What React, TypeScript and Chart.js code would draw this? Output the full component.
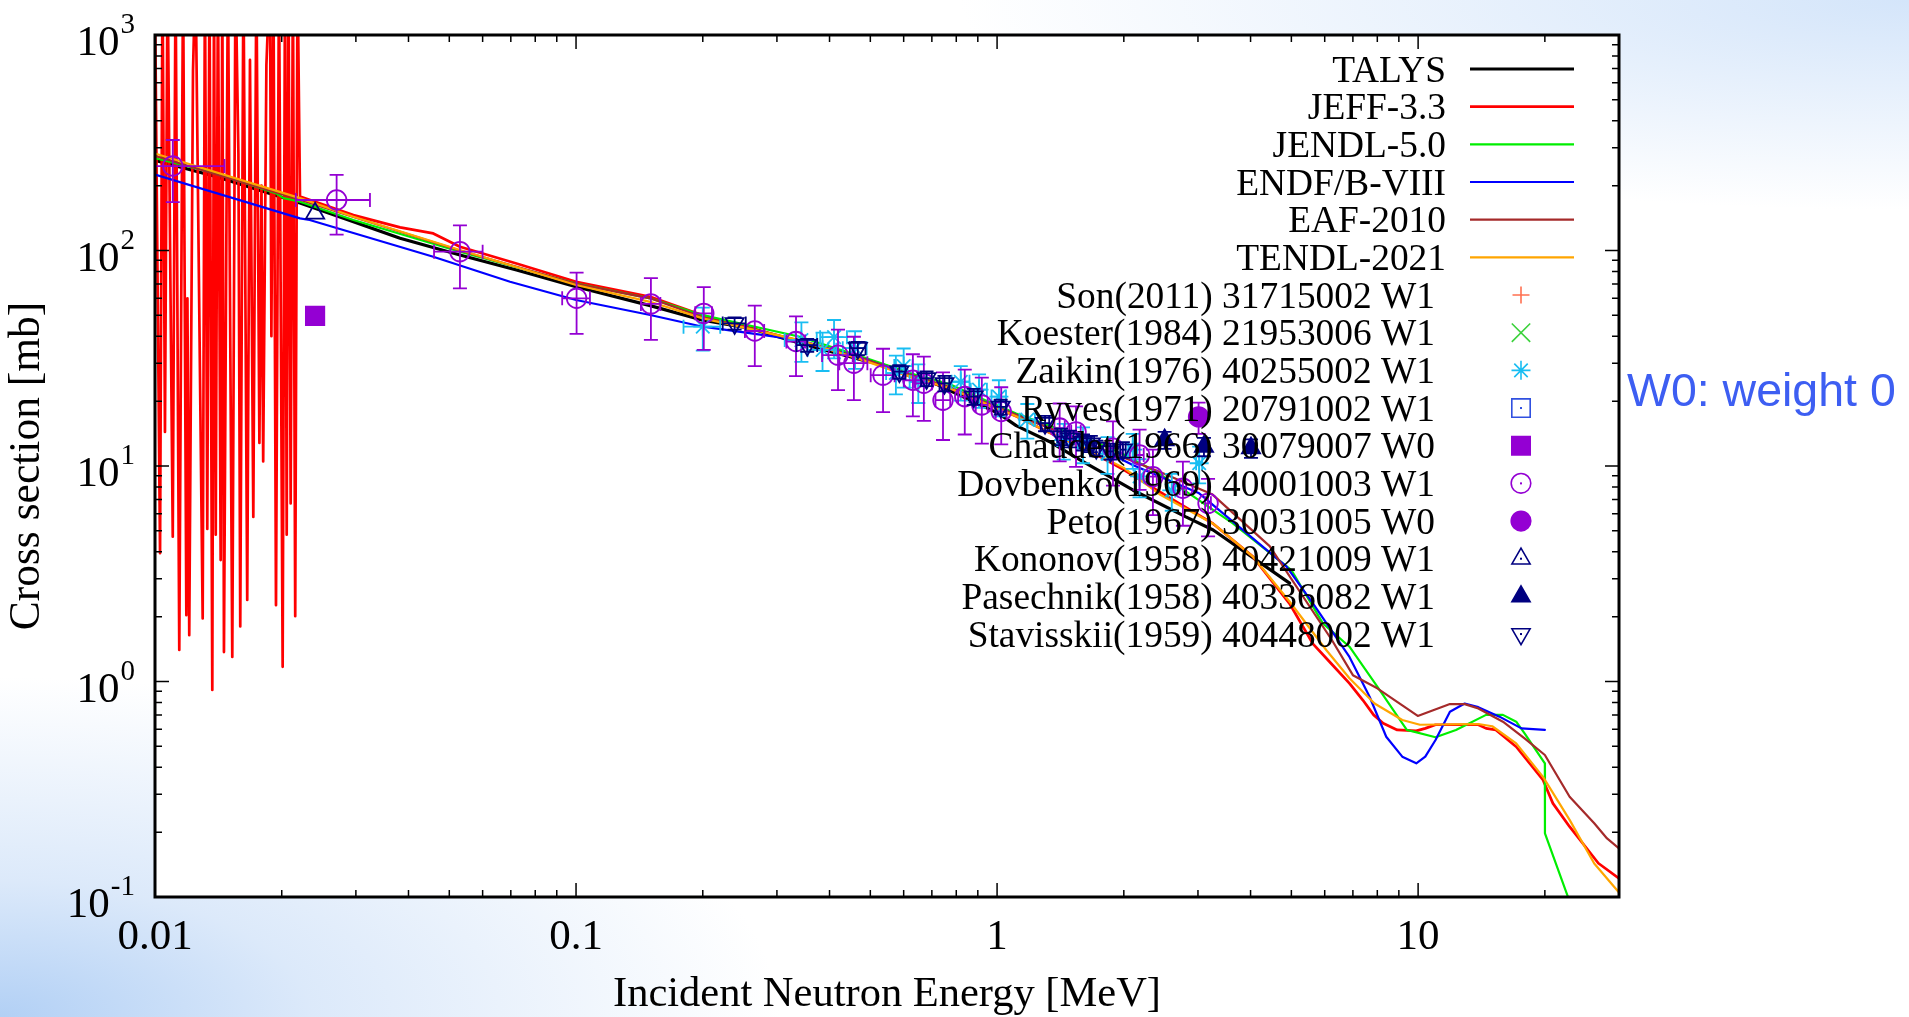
import React, { useEffect, useRef } from 'react';
import { Chart, registerables } from 'chart.js';

Chart.register(...registerables);

const SERIF = '"Liberation Serif", "Times New Roman", Times, serif';

// ---------------- data (energy in MeV, cross section in mb) ----------------
const TALYS_E = [0.01, 0.014, 0.0221, 0.0296, 0.0382, 0.053, 0.0722, 0.1, 0.15, 0.2, 0.26, 0.34, 0.48, 0.536, 0.7, 0.85, 1.01, 1.11, 1.33, 1.57, 2.1, 2.8, 3.26, 4.95];
const TALYS_XS = [262, 220, 166, 136, 114, 95.3, 81.2, 67.9, 55.5, 47.5, 43.5, 37.1, 31.0, 29.4, 24.5, 20.5, 17.5, 15.4, 13.0, 10.7, 7.74, 5.82, 5.05, 2.86];

const JEFF_RES_E = [0.01, 0.01028, 0.01042, 0.01056, 0.01071, 0.01102, 0.01119, 0.01142, 0.01166, 0.01187, 0.01194, 0.01206, 0.01231, 0.01248, 0.01298, 0.01314, 0.01331, 0.01347, 0.01368, 0.01381, 0.01394, 0.01411, 0.01432, 0.01445, 0.01458, 0.0149, 0.01526, 0.01553, 0.01578, 0.01594, 0.01622, 0.01656, 0.01681, 0.01712, 0.01741, 0.0177, 0.0179, 0.01807, 0.01839, 0.01875, 0.0189, 0.01911, 0.01938, 0.0197, 0.0201, 0.02036, 0.02055, 0.02075, 0.021, 0.02126, 0.02153, 0.0218];
const JEFF_RES_XS = [1500, 3.94, 2000, 14.4, 2000, 4.7, 2000, 1.4, 2000, 2.03, 60, 1.64, 681, 2000, 1.96, 2000, 5.1, 2000, 0.913, 2000, 4.8, 2000, 3.66, 2000, 1.37, 2000, 1.3, 2000, 282, 1.8, 2000, 2.39, 766, 5.8, 2000, 12.8, 200, 10.5, 726, 2000, 40, 2000, 2.26, 2000, 1.17, 2000, 4.8, 2000, 6.7, 2000, 2.01, 2000];
const JEFF_E = [0.0221, 0.0296, 0.0382, 0.0458, 0.053, 0.0722, 0.1, 0.15, 0.2, 0.26, 0.34, 0.48, 0.64, 0.77, 0.92, 1.11, 1.33, 1.6, 2.0, 2.43, 3.26, 4.05, 4.95, 5.62, 6.16, 6.87, 7.39, 7.84, 8.26, 8.92, 9.9, 10.4, 11.0, 13.9, 14.5, 15.3, 17.1, 19.8, 20.9, 22.9, 26.8, 30];
const JEFF_XS = [178, 146, 128, 120, 104, 87, 71.6, 61, 50, 43.5, 38, 31.5, 25.5, 23, 19.8, 17, 14.3, 12.2, 9.6, 7.6, 5.4, 3.8, 2.3, 1.5, 1.235, 0.98, 0.82, 0.7, 0.64, 0.596, 0.59, 0.606, 0.63, 0.63, 0.606, 0.596, 0.498, 0.349, 0.272, 0.212, 0.1434, 0.122];

const JENDL_E = [0.01, 0.014, 0.0194, 0.0202, 0.0221, 0.0296, 0.053, 0.1, 0.15, 0.2, 0.34, 0.48, 0.64, 0.77, 0.92, 1.11, 1.38, 1.6, 2.0, 2.43, 2.815, 3.63, 5.0, 5.94, 6.87, 8.0, 9.4, 11.0, 12.3, 14.5, 15.9, 17.1, 17.9, 20.0, 20.01, 22.7, 23.5];
const JENDL_XS = [268, 228, 184, 175, 168.5, 138.5, 98.7, 70.3, 60, 50.1, 39.8, 32, 26.5, 24, 20.5, 17.5, 15.0, 13.7, 11.3, 9.2, 7.6, 5.42, 3.29, 1.86, 1.45, 0.946, 0.596, 0.551, 0.596, 0.7, 0.7, 0.651, 0.575, 0.417, 0.1975, 0.1, 0.085];

const ENDF_E = [0.01, 0.0221, 0.0233, 0.0458, 0.0697, 0.1, 0.15, 0.2, 0.34, 0.48, 0.64, 0.77, 0.92, 1.11, 1.33, 1.6, 2.1, 3.02, 4.87, 5.62, 6.87, 7.67, 8.4, 9.17, 9.9, 10.4, 11.0, 11.9, 12.9, 13.9, 15.6, 17.6, 20.0];
const ENDF_XS = [225, 141, 138.5, 93.6, 71.6, 58.9, 50.2, 44.3, 38.4, 31.5, 26, 23, 20, 17.3, 15.0, 13.2, 10.1, 7.47, 3.41, 2.31, 1.3, 0.85, 0.554, 0.448, 0.417, 0.448, 0.535, 0.724, 0.79, 0.76, 0.687, 0.606, 0.596];

const EAF_E = [0.01, 0.0221, 0.0296, 0.053, 0.1, 0.15, 0.2, 0.26, 0.34, 0.48, 0.64, 0.77, 0.92, 1.11, 1.33, 1.6, 2.43, 3.24, 4.44, 6.25, 7.0, 8.0, 9.98, 11.9, 12.9, 13.9, 15.9, 17.9, 20, 22.9, 26.2, 28.1, 30];
const EAF_XS = [275, 172, 143, 100, 70, 60, 49, 43.5, 38, 31.5, 26, 23.3, 20, 17.3, 15, 13, 9.4, 7.4, 4.25, 1.55, 1.07, 0.93, 0.692, 0.786, 0.785, 0.75, 0.651, 0.545, 0.456, 0.292, 0.22, 0.187, 0.168];

const TENDL_E = [0.01, 0.0221, 0.0296, 0.053, 0.1, 0.15, 0.2, 0.34, 0.48, 0.64, 0.77, 0.92, 1.11, 1.33, 1.6, 2.0, 2.43, 3.26, 4.05, 4.95, 6.05, 6.87, 7.88, 9.17, 10.1, 13.9, 15.0, 17.1, 19.8, 22.9, 26.2, 30];
const TENDL_XS = [282, 175, 143.5, 100.5, 69.2, 57.8, 48.4, 38.4, 31, 25.5, 23, 19.8, 17, 14.3, 12.2, 9.8, 7.4, 5.4, 3.8, 2.35, 1.4, 1.035, 0.79, 0.663, 0.63, 0.635, 0.62, 0.516, 0.361, 0.228, 0.143, 0.105];

const EMPTY: number[] = [];

const ZAI_E = [0.2, 0.343, 0.385, 0.41, 0.46, 0.575, 0.6, 0.65, 0.82, 0.906, 1.01, 1.18, 1.44, 1.6, 1.83, 2.1, 2.18, 2.6, 3.02];
const ZAI_XS = [44.3, 38.4, 34.6, 39.6, 35.2, 27.0, 29.1, 24.6, 24.6, 22.6, 21.0, 16.4, 13.2, 12.7, 11.4, 11.9, 8.95, 7.7, 10.3];
const ZAI_DXS = [10, 8, 7, 8, 7, 5.5, 6, 5, 4.5, 4, 4, 3, 2.5, 2.4, 2.2, 2.2, 1.8, 1.5, 2.0];
const ZAI_DE = [0.02, 0.03, 0.03, 0.03, 0.03, 0.03, 0.03, 0.03, 0.04, 0.04, 0.04, 0.05, 0.05, 0.05, 0.05, 0.05, 0.05, 0.05, 0.05];

const CHA_E = [0.024];
const CHA_XS = [49.7];
const CHA_DXS = [2];

const DOV_E = [0.01102, 0.027, 0.053, 0.1003, 0.1506, 0.2011, 0.2658, 0.333, 0.419, 0.457, 0.536, 0.631, 0.67, 0.744, 0.838, 0.92, 1.023, 1.408, 1.54, 1.885, 2.18, 2.345, 2.763, 3.17];
const DOV_XS = [246.6, 171.5, 98.7, 60, 56.5, 51.1, 42.3, 37.8, 32.7, 30.0, 26.4, 25.0, 24.2, 20.2, 21.0, 19.2, 17.9, 15.0, 14.4, 12.1, 11.25, 8.92, 7.88, 6.71];
const DOV_DXS = [79, 53, 32, 19, 18, 16.5, 13.2, 11.7, 10.2, 9.8, 8.6, 8, 8, 7, 7, 6.5, 5.3, 4.5, 4.5, 4, 3.5, 3, 2.6, 2.0];
const DOV_DE = [0.0036, 0.0054, 0.007, 0.0076, 0.008, 0.0092, 0.014, 0.017, 0.035, 0.035, 0.035, 0.03, 0.03, 0.03, 0.03, 0.03, 0.03, 0.04, 0.04, 0.04, 0.05, 0.05, 0.05, 0.05];

const PETO_E = [3.01];
const PETO_XS = [16.9];
const PETO_DXS = [2.8];

const KON_E = [0.024];
const KON_XS = [148.8];

const PAS_E = [2.5, 3.1, 4.01];
const PAS_XS = [13.2, 12.3, 12.1];
const PAS_DXS = [1.2, 1.2, 1.2];

const STA_E = [0.238, 0.354, 0.467, 0.586, 0.68, 0.75, 0.88, 1.02, 1.3, 1.42, 1.49, 1.6, 1.67, 1.72, 1.86, 1.99];
const STA_XS = [45.9, 36.4, 35.2, 27.4, 25.5, 24.2, 21.0, 18.8, 15.8, 13.7, 13.4, 12.9, 12.7, 12.1, 11.7, 11.9];
const STA_DXS = [3, 2.5, 2.5, 2, 2, 2, 1.8, 1.5, 1.3, 1.2, 1.2, 1.1, 1.1, 1.0, 1.0, 1.0];
const STA_DE = [0.015, 0.02, 0.02, 0.02, 0.02, 0.02, 0.02, 0.03, 0.03, 0.03, 0.03, 0.03, 0.03, 0.03, 0.03, 0.03];

const X_TICK_VALUES = [0.01, 0.1, 1, 10];
const X_TICK_LABELS = ['0.01', '0.1', '1', '10'];
const Y_TICK_VALUES = [0.1, 1, 10, 100, 1000];
const Y_TICK_EXP = ['-1', '0', '1', '2', '3'];

const X_TITLE = 'Incident Neutron Energy [MeV]';
const Y_TITLE = 'Cross section [mb]';

// ---------------- helpers ----------------
function pts(e: number[], s: number[]) {
  return e.map((x, i) => ({ x, y: s[i] }));
}

function curve(label: string, e: number[], s: number[], color: string, width: number) {
  return {
    label,
    data: pts(e, s),
    showLine: true,
    borderColor: color,
    backgroundColor: color,
    borderWidth: width,
    pointRadius: 0,
    pointHoverRadius: 0,
    pointHitRadius: 0,
    fill: false,
    tension: 0,
    borderJoinStyle: 'round',
    borderCapStyle: 'round',
    isCurve: true,
  };
}

function points(label: string, e: number[], s: number[], de: number[] | null, ds: number[] | null, color: string, style: string, radius: number, filled: boolean, rotation = 0) {
  const bg = filled ? color : 'rgba(0,0,0,0)';
  return {
    label,
    data: pts(e, s),
    showLine: false,
    borderColor: color,
    backgroundColor: bg,
    pointStyle: style,
    pointRadius: radius,
    pointHoverRadius: radius,
    pointBorderWidth: 1.8,
    pointBorderColor: color,
    pointBackgroundColor: bg,
    pointRotation: rotation,
    errX: de,
    errY: ds,
    isCurve: false,
    markerFilled: filled,
  };
}

function drawMarker(ctx: CanvasRenderingContext2D, style: string, x: number, y: number, r: number, color: string, filled: boolean, rotation: number) {
  ctx.save();
  ctx.translate(x, y);
  ctx.rotate((rotation * Math.PI) / 180);
  ctx.strokeStyle = color;
  ctx.fillStyle = color;
  ctx.lineWidth = 1.6;
  ctx.beginPath();
  let closed = true;
  if (style === 'circle') {
    ctx.arc(0, 0, r, 0, Math.PI * 2);
  } else if (style === 'rect') {
    const s = r * Math.SQRT1_2;
    ctx.rect(-s, -s, 2 * s, 2 * s);
  } else if (style === 'triangle') {
    for (let k = 0; k < 3; k++) {
      const a = (k * 2 * Math.PI) / 3;
      const px = Math.sin(a) * r;
      const py = -Math.cos(a) * r;
      if (k === 0) ctx.moveTo(px, py);
      else ctx.lineTo(px, py);
    }
    ctx.closePath();
  } else {
    closed = false;
    if (style === 'cross' || style === 'star') {
      ctx.moveTo(0, -r); ctx.lineTo(0, r);
      ctx.moveTo(-r, 0); ctx.lineTo(r, 0);
    }
    if (style === 'crossRot' || style === 'star') {
      const d = r * Math.SQRT1_2;
      ctx.moveTo(-d, -d); ctx.lineTo(d, d);
      ctx.moveTo(-d, d); ctx.lineTo(d, -d);
    }
  }
  if (closed && filled) ctx.fill();
  ctx.stroke();
  if (closed && !filled) ctx.fillRect(-1, -1, 2, 2);
  ctx.restore();
}

// ---------------- plugins ----------------
const plotBackground = {
  id: 'plotBackground',
  beforeDraw(chart: any) {
    const { ctx, chartArea: ca } = chart;
    ctx.save();
    ctx.fillStyle = '#ffffff';
    ctx.fillRect(ca.left, ca.top, ca.right - ca.left, ca.bottom - ca.top);
    ctx.restore();
  },
};

const errorBars = {
  id: 'errorBars',
  beforeDatasetDraw(chart: any, args: any) {
    const ds = chart.data.datasets[args.index];
    if (!ds || (!ds.errX && !ds.errY)) return;
    const { ctx, chartArea: ca } = chart;
    const xs = chart.scales.x;
    const ys = chart.scales.y;
    const cap = 7;
    ctx.save();
    ctx.beginPath();
    ctx.rect(ca.left, ca.top, ca.right - ca.left, ca.bottom - ca.top);
    ctx.clip();
    ctx.strokeStyle = ds.borderColor;
    ctx.lineWidth = 1.8;
    ds.data.forEach((p: any, i: number) => {
      const px = xs.getPixelForValue(p.x);
      const py = ys.getPixelForValue(p.y);
      const dy = ds.errY ? ds.errY[i] : 0;
      const dx = ds.errX ? ds.errX[i] : 0;
      ctx.beginPath();
      if (dy > 0) {
        const y1 = ys.getPixelForValue(p.y + dy);
        const lo = p.y - dy;
        const y2 = lo > 0 ? ys.getPixelForValue(lo) : ca.bottom + 20;
        ctx.moveTo(px, y1); ctx.lineTo(px, y2);
        ctx.moveTo(px - cap, y1); ctx.lineTo(px + cap, y1);
        ctx.moveTo(px - cap, y2); ctx.lineTo(px + cap, y2);
      }
      if (dx > 0) {
        const x2 = xs.getPixelForValue(p.x + dx);
        const lo = p.x - dx;
        const x1 = lo > 0 ? xs.getPixelForValue(lo) : ca.left - 20;
        ctx.moveTo(x1, py); ctx.lineTo(x2, py);
        ctx.moveTo(x1, py - cap); ctx.lineTo(x1, py + cap);
        ctx.moveTo(x2, py - cap); ctx.lineTo(x2, py + cap);
      }
      ctx.stroke();
    });
    ctx.restore();
  },
};

const frameAndLegend = {
  id: 'frameAndLegend',
  afterDatasetsDraw(chart: any) {
    const { ctx, chartArea: ca } = chart;
    const xs = chart.scales.x;
    const ys = chart.scales.y;
    ctx.save();

    // ticks (inside, mirrored on all sides)
    ctx.strokeStyle = '#000';
    ctx.lineWidth = 1.5;
    ctx.beginPath();
    for (let d = -2; d <= 1; d++) {
      for (let k = 1; k <= 9; k++) {
        const v = k * Math.pow(10, d);
        if (v < 0.0099 || v > 30.01) continue;
        const px = xs.getPixelForValue(v);
        const len = k === 1 ? 14 : 7;
        ctx.moveTo(px, ca.bottom); ctx.lineTo(px, ca.bottom - len);
        ctx.moveTo(px, ca.top); ctx.lineTo(px, ca.top + len);
      }
    }
    for (let d = -1; d <= 3; d++) {
      for (let k = 1; k <= 9; k++) {
        const v = k * Math.pow(10, d);
        if (v < 0.099 || v > 1000.1) continue;
        const py = ys.getPixelForValue(v);
        const len = k === 1 ? 14 : 7;
        ctx.moveTo(ca.left, py); ctx.lineTo(ca.left + len, py);
        ctx.moveTo(ca.right, py); ctx.lineTo(ca.right - len, py);
      }
    }
    ctx.stroke();

    // frame
    ctx.lineWidth = 3;
    ctx.strokeRect(ca.left, ca.top, ca.right - ca.left, ca.bottom - ca.top);

    // tick labels
    ctx.fillStyle = '#000';
    ctx.textBaseline = 'alphabetic';
    ctx.font = `43px ${SERIF}`;
    ctx.textAlign = 'center';
    X_TICK_VALUES.forEach((v, i) => {
      ctx.fillText(X_TICK_LABELS[i], xs.getPixelForValue(v), ca.bottom + 52);
    });
    Y_TICK_VALUES.forEach((v, i) => {
      const py = ys.getPixelForValue(v);
      const right = 135;
      ctx.font = `29px ${SERIF}`;
      const sup = Y_TICK_EXP[i];
      const ws = ctx.measureText(sup).width;
      ctx.textAlign = 'left';
      ctx.fillText(sup, right - ws, py - 2);
      ctx.font = `43px ${SERIF}`;
      ctx.textAlign = 'right';
      ctx.fillText('10', right - ws - 1, py + 20);
    });

    // axis titles
    ctx.font = `42.5px ${SERIF}`;
    ctx.textAlign = 'center';
    ctx.fillText(X_TITLE, (ca.left + ca.right) / 2, 1006);
    ctx.save();
    ctx.translate(28, (ca.top + ca.bottom) / 2);
    ctx.rotate(-Math.PI / 2);
    ctx.textBaseline = 'middle';
    ctx.font = `43.5px ${SERIF}`;
    ctx.fillText(Y_TITLE, 0, 0);
    ctx.restore();

    // legend (gnuplot style: right-aligned text, sample on the right)
    ctx.font = `37.4px ${SERIF}`;
    ctx.textAlign = 'right';
    ctx.textBaseline = 'alphabetic';
    chart.data.datasets.forEach((ds: any, i: number) => {
      const rowY = 69 + 37.67 * i;
      ctx.fillStyle = '#000';
      if (ds.isCurve) {
        ctx.fillText(ds.label, 1446, rowY + 12.5);
        ctx.strokeStyle = ds.borderColor;
        ctx.lineWidth = Math.min(ds.borderWidth, 3);
        ctx.beginPath();
        ctx.moveTo(1470, rowY);
        ctx.lineTo(1574, rowY);
        ctx.stroke();
      } else {
        ctx.fillText(ds.label, 1435, rowY + 12.5);
        drawMarker(ctx, ds.pointStyle, 1521, rowY, ds.pointRadius, ds.borderColor, ds.markerFilled, ds.pointRotation || 0);
      }
    });
    ctx.restore();
  },
};

// ---------------- component ----------------
export default function App() {
  const ref = useRef<HTMLCanvasElement>(null);

  useEffect(() => {
    const VIOLET = '#9400d3';
    const NAVY = '#000080';
    const datasets: any[] = [
      curve('TALYS', TALYS_E, TALYS_XS, '#000000', 3.2),
      curve('JEFF-3.3', JEFF_RES_E.concat(JEFF_E), JEFF_RES_XS.concat(JEFF_XS), '#ff0000', 2.7),
      curve('JENDL-5.0', JENDL_E, JENDL_XS, '#00ee00', 2.2),
      curve('ENDF/B-VIII', ENDF_E, ENDF_XS, '#0000ff', 2.2),
      curve('EAF-2010', EAF_E, EAF_XS, '#a52a2a', 2.2),
      curve('TENDL-2021', TENDL_E, TENDL_XS, '#ffa500', 2.2),
      points('Son(2011) 31715002 W1', EMPTY, EMPTY, null, null, '#ff7050', 'cross', 8.5, false),
      points('Koester(1984) 21953006 W1', EMPTY, EMPTY, null, null, '#3cd23c', 'crossRot', 13, false),
      points('Zaikin(1976) 40255002 W1', ZAI_E, ZAI_XS, ZAI_DE, ZAI_DXS, '#19bdf2', 'star', 9.5, false),
      points('Ryves(1971) 20791002 W1', EMPTY, EMPTY, null, null, '#3050e0', 'rect', 13, false),
      points('Chaudet(1966) 30079007 W0', CHA_E, CHA_XS, null, CHA_DXS, VIOLET, 'rect', 13, true),
      points('Dovbenko(1969) 40001003 W1', DOV_E, DOV_XS, DOV_DE, DOV_DXS, VIOLET, 'circle', 9.8, false),
      points('Peto(1967) 30031005 W0', PETO_E, PETO_XS, null, PETO_DXS, VIOLET, 'circle', 9.8, true),
      points('Kononov(1958) 40421009 W1', KON_E, KON_XS, null, null, NAVY, 'triangle', 10.5, false),
      points('Pasechnik(1958) 40336082 W1', PAS_E, PAS_XS, null, PAS_DXS, NAVY, 'triangle', 10.5, true),
      points('Stavisskii(1959) 40448002 W1', STA_E, STA_XS, STA_DE, STA_DXS, NAVY, 'triangle', 10.5, false, 180),
    ];
    const n = datasets.length;
    datasets.forEach((d, i) => { d.order = n - i; });

    const chart = new Chart(ref.current as HTMLCanvasElement, {
      type: 'scatter',
      data: { datasets },
      options: {
        responsive: false,
        animation: false,
        devicePixelRatio: 1,
        events: [],
        layout: { padding: { left: 0, top: 35, right: 290, bottom: 0 } },
        plugins: { legend: { display: false }, tooltip: { enabled: false } },
        scales: {
          x: {
            type: 'logarithmic',
            min: 0.01,
            max: 30,
            position: 'bottom',
            grid: { display: false },
            border: { display: false },
            ticks: { display: false },
            afterFit(scale: any) { scale.height = 120; },
          },
          y: {
            type: 'logarithmic',
            min: 0.1,
            max: 1000,
            position: 'left',
            grid: { display: false },
            border: { display: false },
            ticks: { display: false },
            afterFit(scale: any) { scale.width = 155; },
          },
        },
      } as any,
      plugins: [plotBackground, errorBars, frameAndLegend],
    } as any);
    return () => chart.destroy();
  }, []);

  return (
    <div
      style={{
        position: 'fixed',
        left: 0,
        top: 0,
        width: 1909,
        height: 1017,
        overflow: 'hidden',
        background:
          'radial-gradient(ellipse 780px 340px at 0px 1017px, rgba(178,208,245,1) 0%, rgba(205,224,248,0.7) 40%, rgba(255,255,255,0) 100%), radial-gradient(ellipse 950px 210px at 1909px 0px, rgba(212,229,250,1) 0%, rgba(255,255,255,0) 100%), #ffffff',
      }}
    >
      <canvas ref={ref} width={1909} height={1017} style={{ position: 'absolute', left: 0, top: 0, width: 1909, height: 1017 }} />
      <div
        style={{
          position: 'absolute',
          left: 1627,
          top: 367,
          fontFamily: '"Liberation Sans", Arial, Helvetica, sans-serif',
          fontSize: 46.5,
          lineHeight: '46px',
          color: '#3d5ef2',
          whiteSpace: 'nowrap',
        }}
      >
        W0: weight 0
      </div>
    </div>
  );
}
